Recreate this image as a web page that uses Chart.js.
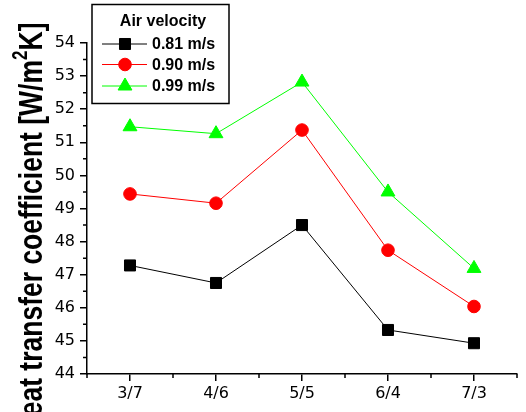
<!DOCTYPE html>
<html>
<head>
<meta charset="utf-8">
<script src="https://cdn.jsdelivr.net/npm/chart.js@4"></script>
<style>
  body { margin: 0; background: #fff; }
</style>
</head>
<body>
<canvas id="chart" width="526" height="412"></canvas>
<script>
// air/water ratio categories
const ratios = ["3/7", "4/6", "5/5", "6/4", "7/3"];
// heat transfer coefficient per air velocity
const v081 = [47.28, 46.75, 48.50, 45.33, 44.93];
const v090 = [49.44, 49.16, 51.37, 47.74, 46.04];
const v099 = [51.47, 51.26, 52.82, 49.50, 47.19];
const speedLabels = ["0.81 m/s", "0.90 m/s", "0.99 m/s"];
const yMin = 44, yMax = 54;

// minor ticks, y title and boxed legend (drawn by hand like Origin does)
const extras = {
  id: "extras",
  afterDraw(chart) {
    const ctx = chart.ctx;
    const x = chart.scales.x, y = chart.scales.y;
    const area = chart.chartArea;
    ctx.save();
    ctx.strokeStyle = "#000";
    ctx.lineWidth = 1.5;
    ctx.beginPath();
    for (let v = yMin + 0.5; v < yMax; v += 1) {
      const py = y.getPixelForValue(v);
      ctx.moveTo(area.left - 4, py);
      ctx.lineTo(area.left, py);
    }
    for (let i = -0.5; i <= ratios.length - 0.5; i += 1) {
      const px = x.getPixelForValue(i);
      ctx.moveTo(px, area.bottom);
      ctx.lineTo(px, area.bottom + 4);
    }
    ctx.stroke();
    ctx.restore();

    // rotated y axis title, stretched like the original export
    ctx.save();
    ctx.fillStyle = "#000";
    ctx.translate(42, 229);
    ctx.rotate(-Math.PI / 2);
    ctx.scale(1, 1.25);
    ctx.textBaseline = "alphabetic";
    const big = "bold 26.5px Arial";
    const small = "bold 17px Arial";
    const p1 = "Heat transfer coefficient [W/m", p2 = "2", p3 = "K]";
    ctx.font = big;
    const w1 = ctx.measureText(p1).width, w3 = ctx.measureText(p3).width;
    ctx.font = small;
    const w2 = ctx.measureText(p2).width;
    let tx = -(w1 + w2 + w3) / 2;
    ctx.font = big;
    ctx.fillText(p1, tx, 0);
    tx += w1;
    ctx.font = small;
    ctx.fillText(p2, tx, -12);
    tx += w2;
    ctx.font = big;
    ctx.fillText(p3, tx, 0);
    ctx.restore();

    // legend box
    ctx.save();
    ctx.strokeStyle = "#000";
    ctx.lineWidth = 1.5;
    ctx.strokeRect(92, 4.5, 137, 99);
    ctx.fillStyle = "#000";
    ctx.font = "bold 16px Arial";
    ctx.textAlign = "center";
    ctx.textBaseline = "middle";
    ctx.fillText("Air velocity", 163, 22);
    ctx.textAlign = "left";
    const rows = [44, 64.5, 86];
    chart.data.datasets.forEach((ds, i) => {
      const ry = rows[i];
      ctx.strokeStyle = ds.borderColor;
      ctx.lineWidth = 1;
      ctx.beginPath();
      ctx.moveTo(102, ry);
      ctx.lineTo(147, ry);
      ctx.stroke();
      ctx.fillStyle = ds.borderColor;
      Chart.helpers.drawPoint(ctx, {
        pointStyle: ds.pointStyle,
        radius: ds.pointRadius,
        rotation: 0,
        borderWidth: 1
      }, 125, ry);
      ctx.fillStyle = "#000";
      ctx.fillText(ds.label, 152, ry + 1);
    });
    ctx.restore();
  }
};

const tickFont = { family: "DejaVu Sans", size: 16 };

new Chart(document.getElementById("chart"), {
  type: "line",
  data: {
    labels: ratios,
    datasets: [
      {
        label: speedLabels[0],
        data: v081,
        borderColor: "#000000",
        backgroundColor: "#000000",
        pointStyle: "rect",
        pointRadius: 7.8,
        borderWidth: 1,
        tension: 0
      },
      {
        label: speedLabels[1],
        data: v090,
        borderColor: "#ff0000",
        backgroundColor: "#ff0000",
        pointStyle: "circle",
        pointRadius: 6.3,
        borderWidth: 1,
        tension: 0
      },
      {
        label: speedLabels[2],
        data: v099,
        borderColor: "#00ff00",
        backgroundColor: "#00ff00",
        pointStyle: "triangle",
        pointRadius: 8,
        borderWidth: 1,
        tension: 0
      }
    ]
  },
  options: {
    responsive: false,
    animation: false,
    layout: { padding: { left: 0, top: 43, right: 5, bottom: 0 } },
    plugins: {
      legend: { display: false },
      tooltip: { enabled: false }
    },
    scales: {
      x: {
        offset: true,
        grid: { drawOnChartArea: false, color: "#000", lineWidth: 1.5, tickLength: 7 },
        border: { color: "#000", width: 1.5 },
        ticks: { color: "#000", font: tickFont, padding: 3, maxRotation: 0 },
        afterFit(scale) { scale.height = 38; }
      },
      y: {
        min: yMin,
        max: yMax,
        grid: { drawOnChartArea: false, color: "#000", lineWidth: 1.5, tickLength: 7 },
        border: { color: "#000", width: 1.5 },
        ticks: { color: "#000", font: tickFont, stepSize: 1, padding: 5 },
        afterFit(scale) { scale.width = 87; }
      }
    }
  },
  plugins: [extras]
});
</script>
</body>
</html>
